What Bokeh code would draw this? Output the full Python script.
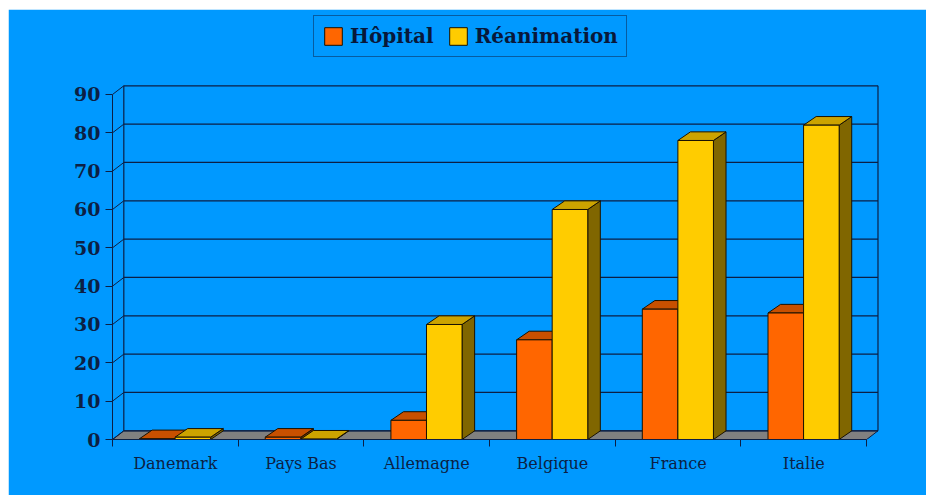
from bokeh.plotting import figure
from bokeh.models import FixedTicker, Legend, LegendItem
from bokeh.embed import file_html
from bokeh.resources import INLINE

# ---- data ----
categories = ["Danemark", "Pays Bas", "Allemagne", "Belgique", "France", "Italie"]
hopital = [0.2, 0.6, 5, 26, 34, 33]
reanimation = [0.6, 0.1, 30, 60, 78, 82]
series_names = ["Hôpital", "Réanimation"]
y_ticks = [0, 10, 20, 30, 40, 50, 60, 70, 80, 90]

# ---- style ----
BG = "#0099FF"
INK = "#0c1f44"
EDGE = "#1a1200"
front_cols = ["#FF6600", "#FFCC00"]
top_cols = ["#C85000", "#CCA300"]
side_cols = ["#803300", "#806600"]

N = len(categories)
WDX, WDY = 0.09, 2.27      # wall depth (data units)
BDX, BDY = 0.10, 2.25      # bar depth
BW = 0.283                 # bar width
OFFS = [0.215, 0.498]      # bar offsets in category
YMAX = y_ticks[-1]

p = figure(width=918, height=486, x_range=(0, N + 0.11), y_range=(0, 111.65),
           output_backend="svg", toolbar_location=None,
           min_border_left=104, min_border_right=46, min_border_top=2, min_border_bottom=56,
           background_fill_color=BG, border_fill_color=BG,
           outline_line_color=BG, outline_line_width=2)
p.margin = (9, 0, 0, 8)
p.grid.visible = False

# floor
p.patch([0, N, N + WDX, WDX], [0, 0, WDY, WDY], fill_color="#808080",
        line_color=INK, line_width=1)

# back wall gridlines and left wall diagonals
p.segment(x0=[WDX] * len(y_ticks), y0=[t + WDY for t in y_ticks],
          x1=[N + WDX] * len(y_ticks), y1=[t + WDY for t in y_ticks],
          line_color=INK, line_width=1.2)
p.segment(x0=[0] * len(y_ticks), y0=y_ticks,
          x1=[WDX] * len(y_ticks), y1=[t + WDY for t in y_ticks],
          line_color=INK, line_width=1)
p.segment(x0=[WDX, N + WDX], y0=[WDY, WDY], x1=[WDX, N + WDX], y1=[YMAX + WDY, YMAX + WDY],
          line_color=INK, line_width=1.2)

front_renderers = []
for s, vals in enumerate([hopital, reanimation]):
    lefts = [i + OFFS[s] for i in range(N)]
    rights = [l + BW for l in lefts]
    side_xs = [[r, r + BDX, r + BDX, r] for r in rights]
    side_ys = [[0, BDY, v + BDY, v] for v in vals]
    top_xs = [[l, r, r + BDX, l + BDX] for l, r in zip(lefts, rights)]
    top_ys = [[v, v, v + BDY, v + BDY] for v in vals]
    p.patches(side_xs, side_ys, fill_color=side_cols[s], line_color=EDGE, line_width=1)
    p.patches(top_xs, top_ys, fill_color=top_cols[s], line_color=EDGE, line_width=1)
    fr = p.quad(left=lefts, right=rights, bottom=[0] * N, top=vals,
                fill_color=front_cols[s], line_color=EDGE, line_width=1)
    front_renderers.append(fr)

# axes
yax = p.yaxis[0]
yax.ticker = FixedTicker(ticks=y_ticks, minor_ticks=[])
yax.bounds = (0, YMAX)
yax.axis_line_color = INK
yax.major_tick_line_color = INK
yax.major_tick_out = 7
yax.major_tick_in = 0
yax.major_label_standoff = 5
yax.major_label_text_font = "DejaVu Serif"
yax.major_label_text_font_style = "bold"
yax.major_label_text_font_size = "19px"
yax.major_label_text_color = INK

xax = p.xaxis[0]
centers = [i + 0.5 for i in range(N)]
xax.ticker = FixedTicker(ticks=centers, minor_ticks=list(range(N + 1)))
xax.major_label_overrides = {c: name for c, name in zip(centers, categories)}
xax.bounds = (0, N)
xax.axis_line_color = INK
xax.major_tick_line_color = None
xax.major_tick_out = 0
xax.major_tick_in = 0
xax.minor_tick_line_color = INK
xax.minor_tick_out = 7
xax.minor_tick_in = 0
xax.major_label_standoff = 7
xax.major_label_text_font = "DejaVu Serif"
xax.major_label_text_font_size = "16px"
xax.major_label_text_color = INK

legend = Legend(items=[LegendItem(label=series_names[i], renderers=[front_renderers[i]]) for i in range(2)],
                orientation="horizontal", location=(201, 382),
                glyph_width=22, glyph_height=22, label_standoff=6, spacing=13,
                padding=8, margin=0,
                label_text_font="DejaVu Serif", label_text_font_style="bold",
                label_text_font_size="20px", label_text_color="#08183a",
                border_line_color=INK, border_line_width=1.5,
                background_fill_color=BG, background_fill_alpha=1)
p.add_layout(legend)

open("out.html", "w").write(file_html(p, INLINE))
